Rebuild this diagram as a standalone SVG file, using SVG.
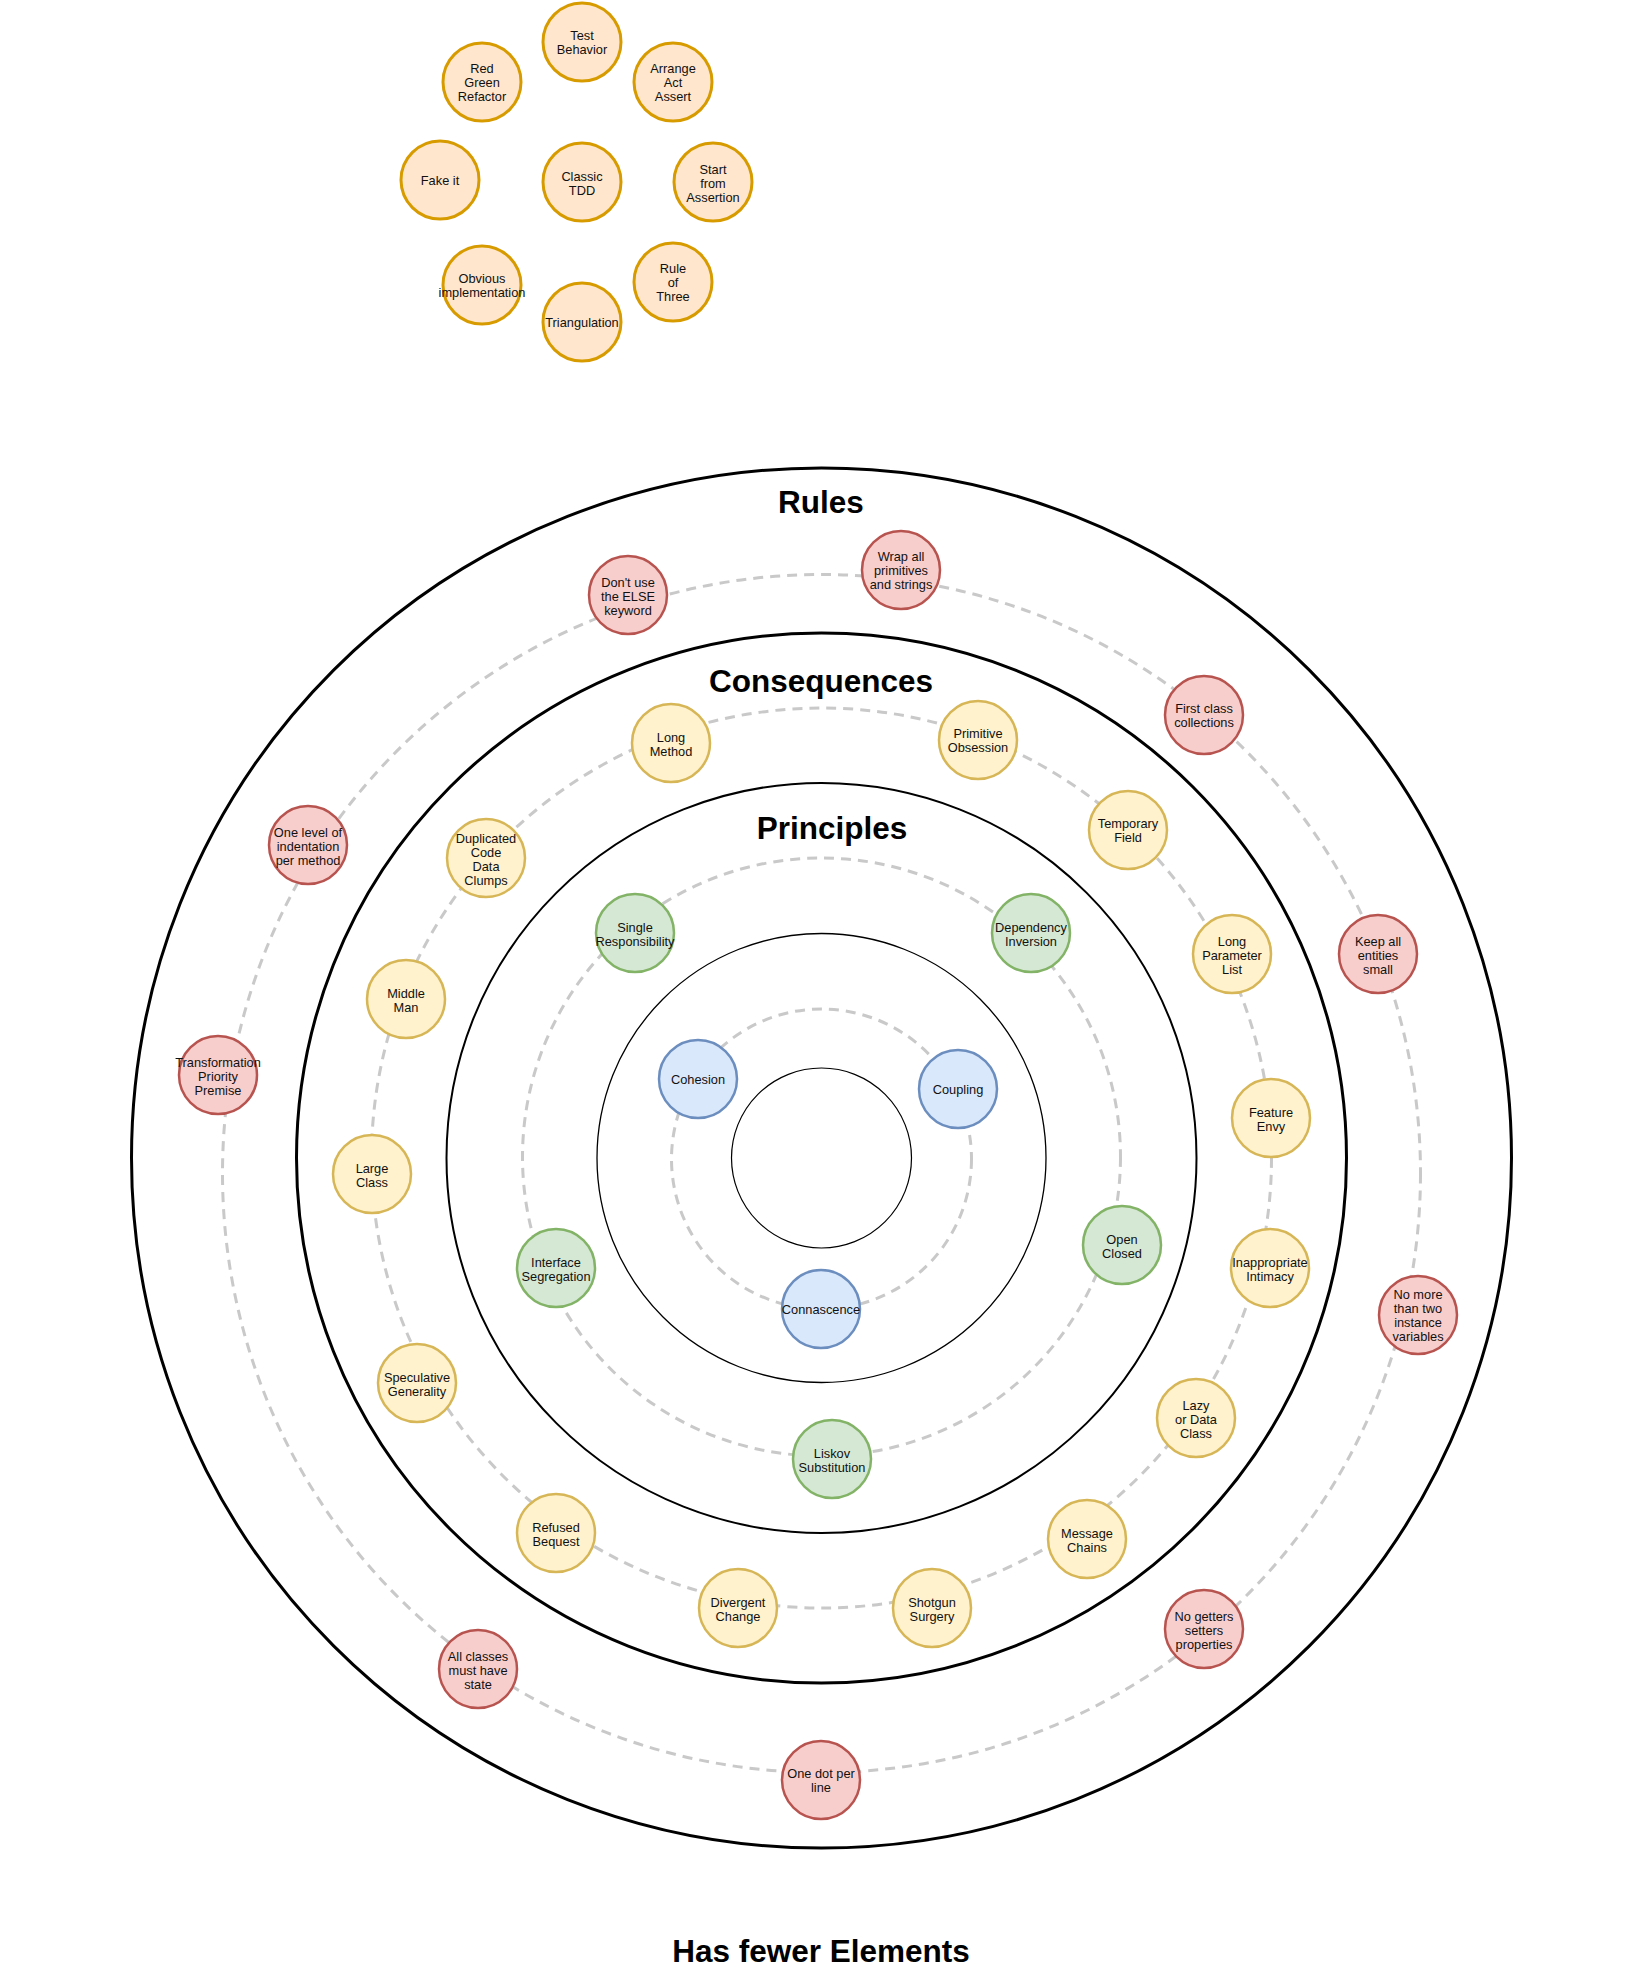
<svg xmlns="http://www.w3.org/2000/svg" width="1641" height="1968" viewBox="0 0 1641 1968">
<style>
.ring{fill:none;stroke:#000}
.dash{fill:none;stroke:#C9C9C9;stroke-width:3;stroke-dasharray:10 7}
text{font-family:"Liberation Sans",Arial,Helvetica,sans-serif;fill:#000;text-anchor:middle}
.node text{font-size:12.8px;dominant-baseline:central;fill:#111}
.title{font-size:31.5px;font-weight:bold}
.tdd circle{fill:#FFE6CC;stroke:#D79B00;stroke-width:3}
.rule circle{fill:#F8CECC;stroke:#B85450;stroke-width:2.5}
.cons circle{fill:#FFF2CC;stroke:#D6B656;stroke-width:2.5}
.prin circle{fill:#D5E8D4;stroke:#82B366;stroke-width:2.5}
.core circle{fill:#DAE8FC;stroke:#6C8EBF;stroke-width:2.5}
</style>
<rect width="1641" height="1968" fill="#fff"/>

<g id="rings">
<circle class="ring" cx="821.5" cy="1158" r="690" stroke-width="3"/>
<circle class="ring" cx="821.5" cy="1158" r="525" stroke-width="3"/>
<circle class="ring" cx="821.5" cy="1158" r="375" stroke-width="2"/>
<circle class="ring" cx="821.5" cy="1158" r="224.5" stroke-width="1.3"/>
<circle class="ring" cx="821.5" cy="1158" r="90" stroke-width="1.2"/>
</g>

<g id="connectors">
<circle class="dash" cx="821.5" cy="1173.5" r="599"/>
<circle class="dash" cx="821.5" cy="1158" r="450"/>
<circle class="dash" cx="821.5" cy="1157" r="299"/>
<circle class="dash" cx="821.5" cy="1159" r="150"/>
</g>

<g id="titles">
<text class="title" x="821" y="513">Rules</text>
<text class="title" x="821" y="692">Consequences</text>
<text class="title" x="832" y="839">Principles</text>
<text class="title" x="821" y="1962">Has fewer Elements</text>
</g>

<!-- TDD cluster -->
<g id="tdd-test-behavior" class="node tdd"><circle cx="582" cy="42" r="39"/><text><tspan x="582" y="35">Test</tspan><tspan x="582" y="49">Behavior</tspan></text></g>
<g id="tdd-red-green" class="node tdd"><circle cx="482" cy="82" r="39"/><text><tspan x="482" y="68">Red</tspan><tspan x="482" y="82">Green</tspan><tspan x="482" y="96">Refactor</tspan></text></g>
<g id="tdd-aaa" class="node tdd"><circle cx="673" cy="82" r="39"/><text><tspan x="673" y="68">Arrange</tspan><tspan x="673" y="82">Act</tspan><tspan x="673" y="96">Assert</tspan></text></g>
<g id="tdd-fake-it" class="node tdd"><circle cx="440" cy="180" r="39"/><text x="440" y="180">Fake it</text></g>
<g id="tdd-classic" class="node tdd"><circle cx="582" cy="182" r="39"/><text><tspan x="582" y="175.5">Classic</tspan><tspan x="582" y="189.5">TDD</tspan></text></g>
<g id="tdd-start-assertion" class="node tdd"><circle cx="713" cy="182" r="39"/><text><tspan x="713" y="168.5">Start</tspan><tspan x="713" y="182.5">from</tspan><tspan x="713" y="196.5">Assertion</tspan></text></g>
<g id="tdd-obvious" class="node tdd"><circle cx="482" cy="285" r="39"/><text><tspan x="482" y="278">Obvious</tspan><tspan x="482" y="292">implementation</tspan></text></g>
<g id="tdd-triangulation" class="node tdd"><circle cx="582" cy="322" r="39"/><text x="582" y="322.5">Triangulation</text></g>
<g id="tdd-rule-of-three" class="node tdd"><circle cx="673" cy="282" r="39"/><text><tspan x="673" y="268">Rule</tspan><tspan x="673" y="282">of</tspan><tspan x="673" y="296">Three</tspan></text></g>

<!-- Rules -->
<g id="rule-no-else" class="node rule"><circle cx="628" cy="595" r="39"/><text><tspan x="628" y="581.5">Don't use</tspan><tspan x="628" y="595.5">the ELSE</tspan><tspan x="628" y="609.5">keyword</tspan></text></g>
<g id="rule-wrap-primitives" class="node rule"><circle cx="901" cy="570" r="39"/><text><tspan x="901" y="556">Wrap all</tspan><tspan x="901" y="570">primitives</tspan><tspan x="901" y="584">and strings</tspan></text></g>
<g id="rule-first-class" class="node rule"><circle cx="1204" cy="715" r="39"/><text><tspan x="1204" y="708">First class</tspan><tspan x="1204" y="722">collections</tspan></text></g>
<g id="rule-small-entities" class="node rule"><circle cx="1378" cy="954" r="39"/><text><tspan x="1378" y="940.5">Keep all</tspan><tspan x="1378" y="954.5">entities</tspan><tspan x="1378" y="968.5">small</tspan></text></g>
<g id="rule-two-ivars" class="node rule"><circle cx="1418" cy="1315" r="39"/><text><tspan x="1418" y="1294.3">No more</tspan><tspan x="1418" y="1308.3">than two</tspan><tspan x="1418" y="1322.3">instance</tspan><tspan x="1418" y="1336.3">variables</tspan></text></g>
<g id="rule-no-getters" class="node rule"><circle cx="1204" cy="1629" r="39"/><text><tspan x="1204" y="1615.5">No getters</tspan><tspan x="1204" y="1629.5">setters</tspan><tspan x="1204" y="1643.5">properties</tspan></text></g>
<g id="rule-one-dot" class="node rule"><circle cx="821" cy="1780" r="39"/><text><tspan x="821" y="1773.3">One dot per</tspan><tspan x="821" y="1787.3">line</tspan></text></g>
<g id="rule-state" class="node rule"><circle cx="478" cy="1669" r="39"/><text><tspan x="478" y="1655.5">All classes</tspan><tspan x="478" y="1669.5">must have</tspan><tspan x="478" y="1683.5">state</tspan></text></g>
<g id="rule-tpp" class="node rule"><circle cx="218" cy="1075" r="39"/><text><tspan x="218" y="1061.5">Transformation</tspan><tspan x="218" y="1075.5">Priority</tspan><tspan x="218" y="1089.5">Premise</tspan></text></g>
<g id="rule-one-level" class="node rule"><circle cx="308" cy="845" r="39"/><text><tspan x="308" y="831.5">One level of</tspan><tspan x="308" y="845.5">indentation</tspan><tspan x="308" y="859.5">per method</tspan></text></g>

<!-- Consequences -->
<g id="cons-long-method" class="node cons"><circle cx="671" cy="743" r="39"/><text><tspan x="671" y="736.5">Long</tspan><tspan x="671" y="750.5">Method</tspan></text></g>
<g id="cons-primitive-obsession" class="node cons"><circle cx="978" cy="740" r="39"/><text><tspan x="978" y="733.3">Primitive</tspan><tspan x="978" y="747.3">Obsession</tspan></text></g>
<g id="cons-temporary-field" class="node cons"><circle cx="1128" cy="830" r="39"/><text><tspan x="1128" y="823.3">Temporary</tspan><tspan x="1128" y="837.3">Field</tspan></text></g>
<g id="cons-long-param" class="node cons"><circle cx="1232" cy="954" r="39"/><text><tspan x="1232" y="940.5">Long</tspan><tspan x="1232" y="954.5">Parameter</tspan><tspan x="1232" y="968.5">List</tspan></text></g>
<g id="cons-feature-envy" class="node cons"><circle cx="1271" cy="1118" r="39"/><text><tspan x="1271" y="1111.7">Feature</tspan><tspan x="1271" y="1125.7">Envy</tspan></text></g>
<g id="cons-intimacy" class="node cons"><circle cx="1270" cy="1268" r="39"/><text><tspan x="1270" y="1261.7">Inappropriate</tspan><tspan x="1270" y="1275.7">Intimacy</tspan></text></g>
<g id="cons-lazy-class" class="node cons"><circle cx="1196" cy="1418" r="39"/><text><tspan x="1196" y="1405">Lazy</tspan><tspan x="1196" y="1419">or Data</tspan><tspan x="1196" y="1433">Class</tspan></text></g>
<g id="cons-message-chains" class="node cons"><circle cx="1087" cy="1539" r="39"/><text><tspan x="1087" y="1532.7">Message</tspan><tspan x="1087" y="1546.7">Chains</tspan></text></g>
<g id="cons-shotgun-surgery" class="node cons"><circle cx="932" cy="1608" r="39"/><text><tspan x="932" y="1601.7">Shotgun</tspan><tspan x="932" y="1615.7">Surgery</tspan></text></g>
<g id="cons-divergent-change" class="node cons"><circle cx="738" cy="1608" r="39"/><text><tspan x="738" y="1601.7">Divergent</tspan><tspan x="738" y="1615.7">Change</tspan></text></g>
<g id="cons-refused-bequest" class="node cons"><circle cx="556" cy="1533" r="39"/><text><tspan x="556" y="1526.7">Refused</tspan><tspan x="556" y="1540.7">Bequest</tspan></text></g>
<g id="cons-speculative" class="node cons"><circle cx="417" cy="1383" r="39"/><text><tspan x="417" y="1376.7">Speculative</tspan><tspan x="417" y="1390.7">Generality</tspan></text></g>
<g id="cons-large-class" class="node cons"><circle cx="372" cy="1174" r="39"/><text><tspan x="372" y="1168">Large</tspan><tspan x="372" y="1182">Class</tspan></text></g>
<g id="cons-middle-man" class="node cons"><circle cx="406" cy="999" r="39"/><text><tspan x="406" y="992.7">Middle</tspan><tspan x="406" y="1006.7">Man</tspan></text></g>
<g id="cons-duplicated" class="node cons"><circle cx="486" cy="858" r="39"/><text><tspan x="486" y="837.7">Duplicated</tspan><tspan x="486" y="851.7">Code</tspan><tspan x="486" y="865.7">Data</tspan><tspan x="486" y="879.7">Clumps</tspan></text></g>

<!-- Principles -->
<g id="prin-srp" class="node prin"><circle cx="635" cy="933" r="39"/><text><tspan x="635" y="926.5">Single</tspan><tspan x="635" y="940.5">Responsibility</tspan></text></g>
<g id="prin-dip" class="node prin"><circle cx="1031" cy="933" r="39"/><text><tspan x="1031" y="926.5">Dependency</tspan><tspan x="1031" y="940.5">Inversion</tspan></text></g>
<g id="prin-ocp" class="node prin"><circle cx="1122" cy="1245" r="39"/><text><tspan x="1122" y="1239">Open</tspan><tspan x="1122" y="1253">Closed</tspan></text></g>
<g id="prin-lsp" class="node prin"><circle cx="832" cy="1459" r="39"/><text><tspan x="832" y="1452.7">Liskov</tspan><tspan x="832" y="1466.7">Substitution</tspan></text></g>
<g id="prin-isp" class="node prin"><circle cx="556" cy="1268" r="39"/><text><tspan x="556" y="1261.7">Interface</tspan><tspan x="556" y="1275.7">Segregation</tspan></text></g>

<!-- Core -->
<g id="core-cohesion" class="node core"><circle cx="698" cy="1079" r="39"/><text x="698" y="1079">Cohesion</text></g>
<g id="core-coupling" class="node core"><circle cx="958" cy="1089" r="39"/><text x="958" y="1089">Coupling</text></g>
<g id="core-connascence" class="node core"><circle cx="821" cy="1309" r="39"/><text x="821" y="1309">Connascence</text></g>
</svg>
